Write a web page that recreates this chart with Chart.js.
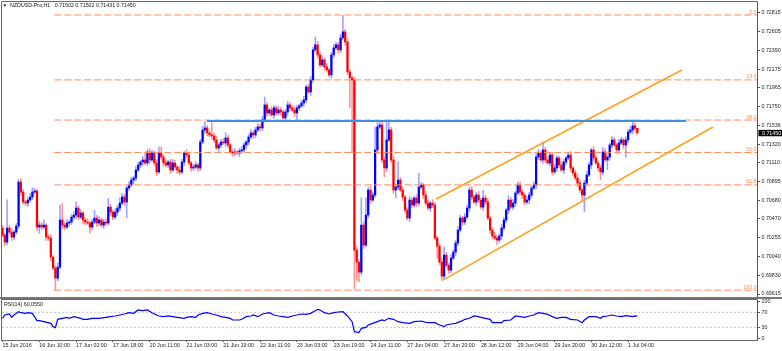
<!DOCTYPE html>
<html><head><meta charset="utf-8">
<script src="https://cdn.jsdelivr.net/npm/chart.js@4.4.1/dist/chart.umd.min.js"></script>
<style>
html,body{margin:0;padding:0;background:#fff;width:782px;height:351px;overflow:hidden}
#main{position:absolute;left:0;top:0}
#rsi{position:absolute;left:0;top:299px}
</style></head><body>
<canvas id="main" width="782" height="299"></canvas>
<canvas id="rsi" width="782" height="52"></canvas>
<script>
// ---------------- DATA ----------------
const symbolTitle = 'NZDUSD-Pro,H1';
const lastBarOHLC = ['0.71502', '0.71502', '0.71431', '0.71450'];
const firstOpen = 0.70366;
// H1 closes, bar 0 = 15 Jun 18:00 ... bar 276 = 1 Jul 08:00
const closes = [
0.70286,0.70206,0.70366,0.70320,0.70263,0.70320,0.70389,0.70890,0.70776,0.70662,
0.70651,0.70685,0.70719,0.70776,0.70788,0.70377,0.70400,0.70377,0.70400,0.70263,
0.70252,0.70035,0.69910,0.69796,0.69921,0.70457,0.70400,0.70377,0.70423,0.70434,
0.70491,0.70514,0.70594,0.70491,0.70537,0.70457,0.70434,0.70423,0.70377,0.70434,
0.70480,0.70423,0.70457,0.70400,0.70434,0.70423,0.70605,0.70548,0.70491,0.70548,
0.70594,0.70651,0.70719,0.70662,0.70822,0.70856,0.70913,0.70936,0.71027,0.71084,
0.71118,0.71141,0.71107,0.71232,0.71141,0.71221,0.71107,0.71004,0.71221,0.71175,
0.71107,0.71084,0.71118,0.71027,0.71107,0.71061,0.71027,0.71004,0.71118,0.71221,
0.71198,0.71107,0.71050,0.71061,0.71084,0.71050,0.71346,0.71483,0.71506,0.71449,
0.71426,0.71415,0.71369,0.71278,0.71312,0.71346,0.71335,0.71392,0.71312,0.71232,
0.71221,0.71232,0.71221,0.71244,0.71255,0.71312,0.71346,0.71403,0.71449,0.71426,
0.71483,0.71517,0.71506,0.71597,0.71768,0.71677,0.71711,0.71654,0.71734,0.71677,
0.71711,0.71688,0.71620,0.71688,0.71768,0.71734,0.71711,0.71677,0.71734,0.71757,
0.71791,0.71825,0.71973,0.71916,0.72053,0.72395,0.72452,0.72338,0.72224,0.72281,
0.72201,0.72167,0.72110,0.72338,0.72418,0.72452,0.72395,0.72532,0.72600,0.72486,
0.72144,0.72076,0.72053,0.70115,0.69978,0.69864,0.70400,0.70172,0.70514,0.70799,
0.70685,0.70742,0.71255,0.71517,0.71540,0.71141,0.71050,0.71369,0.71483,0.71141,
0.70799,0.70833,0.70913,0.70799,0.70719,0.70571,0.70480,0.70685,0.70628,0.70708,
0.70651,0.70833,0.70856,0.70742,0.70651,0.70594,0.70651,0.70628,0.70252,0.70161,
0.69978,0.69819,0.70058,0.69944,0.69887,0.70024,0.70092,0.70195,0.70343,0.70480,
0.70434,0.70491,0.70594,0.70799,0.70719,0.70662,0.70742,0.70685,0.70605,0.70708,
0.70662,0.70480,0.70343,0.70275,0.70252,0.70229,0.70275,0.70366,0.70457,0.70571,
0.70685,0.70605,0.70651,0.70765,0.70856,0.70776,0.70742,0.70662,0.70685,0.70742,
0.70822,0.70856,0.71175,0.71221,0.71141,0.71255,0.71141,0.71107,0.71198,0.71004,
0.71050,0.71164,0.71084,0.71027,0.71118,0.71164,0.71198,0.71050,0.70993,0.70936,
0.70879,0.70799,0.70742,0.70879,0.70970,0.71084,0.71255,0.71164,0.71107,0.71050,
0.71004,0.71232,0.71141,0.71175,0.71312,0.71369,0.71312,0.71255,0.71335,0.71369,
0.71312,0.71369,0.71460,0.71483,0.71530,0.71502,0.71450
];
// upper shadow length above the body, in pips
const wickHigh = [
3,2,32,3,4,2,3,3,4,3, 2,3,4,5,3,2,4,3,6,2, 3,4,2,3,5,17,19,3,4,2, 3,4,7,3,4,2,3,4,2,3,
9,3,4,2,3,4,10,3,2,4, 3,6,4,3,2,4,3,2,4,3, 2,4,9,3,4,3,2,4,7,7, 3,4,2,3,4,3,2,4,3,2,
4,3,2,3,4,2,3,4,7,3, 2,17,3,4,2,3,4,6,3,2, 3,4,2,3,4,3,2,3,4,2, 3,4,3,4,9,3,2,4,3,2,
4,3,2,3,4,3,2,4,3,2, 3,4,2,3,4,3,9,4,3,5, 3,4,2,3,4,3,3,4,19,3, 4,3,2,3,4,3,31,4,20,3,
4,3,26,5,5,3,4,22,11,3, 4,3,21,3,4,2,3,4,3,2, 4,16,3,2,4,3,2,4,3,2, 3,4,9,3,2,4,3,3,4,3,
2,4,3,3,4,2,3,4,2,9, 3,4,2,3,4,3,2,4,3,2, 5,3,4,2,3,4,3,2,4,3, 2,4,3,4,2,9,3,4,2,3,
4,3,2,4,3,2,3,4,2,3, 4,3,2,3,4,3,2,4,3,2, 3,5,4,3,2,4,3,2,4,3, 2,4,3,4,7,3,0
];
// lower shadow length below the body, in pips
const wickLow = [
2,4,3,2,4,3,2,3,4,2, 3,4,2,3,2,4,7,3,2,4, 3,4,2,14,3,2,4,3,2,4, 3,2,4,3,2,4,3,2,7,3,
2,4,3,2,4,3,2,4,3,2, 4,3,2,4,18,3,2,4,3,2, 3,4,2,3,4,2,3,4,2,3, 4,2,3,4,2,3,4,3,2,4,
3,2,4,3,2,4,3,2,4,3, 2,4,3,2,4,3,2,4,3,2, 4,3,2,4,3,2,4,3,2,4, 3,2,4,3,2,4,3,2,4,3,
2,4,3,2,4,3,2,4,8,3, 2,4,3,2,4,3,2,4,3,2, 4,3,2,4,3,2,4,3,2,4, 3,34,83,44,21,11,3,4,2,3,
4,2,3,4,2,3,10,4,2,3, 4,9,3,2,4,3,2,4,3,2, 4,3,2,4,3,2,4,3,2,14, 3,5,3,2,4,3,2,4,3,2,
4,3,2,4,3,2,4,3,2,4, 3,2,4,3,2,5,3,4,2,3, 4,2,3,4,2,3,4,3,2,4, 3,2,4,3,2,4,3,2,4,3,
2,4,3,2,4,3,2,4,3,2, 4,3,6,19,3,2,4,3,2,4, 9,3,2,11,4,3,2,4,3,2, 4,14,3,2,4,3,2
];
const priceTicks = [0.72815,0.72605,0.72390,0.72175,0.71965,0.71750,0.71536,0.71320,0.71110,0.70895,0.70680,0.70470,0.70255,0.70040,0.69830,0.69615];
const timeLabelBars = [0,16,32,48,64,80,96,112,128,144,160,176,192,208,224,240,256,272];
const timeLabels = ['15 Jun 2016','16 Jun 10:00','17 Jun 02:00','17 Jun 18:00','20 Jun 11:00','21 Jun 03:00','21 Jun 19:00','22 Jun 11:00','23 Jun 03:00','23 Jun 19:00','24 Jun 11:00','27 Jun 04:00','27 Jun 20:00','28 Jun 12:00','29 Jun 04:00','29 Jun 20:00','30 Jun 12:00','1 Jul 04:00'];
const fibLevels = ['0.0','23.6','38.2','50.0','61.8','100.0'];
const fibPrices = [0.72792,0.72053,0.71596,0.71227,0.70857,0.69659];
const fibStartBar = 22.5;
const resistanceBars = [88.9, 297.2];
const resistancePrices = [0.71585, 0.71585];
const channelUpperBars = [188.5, 295.4];
const channelUpperPrices = [0.70697, 0.72166];
const channelLowerBars = [191.5, 308.9];
const channelLowerPrices = [0.69774, 0.71517];
const rsiTitle = 'RSI(14) 60.0550';
const rsiBars = [
0,1,3,4,5,7,8,10,11,13, 15,16,18,21,22,23,24,26,28,29, 31,34,35,37,39,42,45,47,49,51,
53,55,57,59,61,63,65,67,68,70, 72,74,76,79,80,82,84,85,87,89, 91,93,95,97,99,100,103,104,106,108,
109,111,113,116,118,120,122,124,126,128, 130,132,134,137,138,140,142,144,146,148,
150,152,153,155,156,158,159,161,163,165, 166,168,170,172,174,177,179,182,184,186,
188,190,192,193,195,197,200,201,203,205, 207,208,210,212,213,215,217,218,221,223,
225,227,229,231,233,235,237,239,241,243, 245,247,250,252,253,255,258,260,261,263,
265,267,269,271,274,275,276
];
const rsiValues = [
54,62.8,65.5,56.6,62.8,71.7,69,67.3,69,67.3, 47.7,47.7,45,40.6,31.7,29,51.3,54,56.6,54,
58.4,54,51.3,51.3,54,54,56.6,58.4,60.2,62.8, 65.5,69,67.3,76.2,74.4,76.2,69,62.8,60.2,58.4,
60.2,58.4,56.6,54,56.6,58.4,56.6,62.8,67.3,69, 65.5,62.8,58.4,56.6,54,49.5,49.5,51.3,58.4,60.2,
62.8,58.4,65.5,69,62.8,60.2,58.4,56.6,60.2,62.8, 65.5,64.6,67.3,78,76.2,69,65.5,69,70.8,71.7,
60.2,45,18.4,15.7,27.3,29.9,36.2,40.6,45,49.5, 47.7,54,51.3,45,42.4,40.6,45,46.8,43.3,42.4,
42.4,36.2,31.7,36.2,38.8,40.6,47.7,51.3,54,60.2, 58.4,56.6,54,51.3,42.4,42.4,42.4,47.7,49.5,60.2,
58.4,56.6,60.2,62.8,69,67.3,64.6,58.4,54,56.6, 56.6,51.3,49.5,42.4,49.5,58.4,58.4,54,58.4,60.2,
62.8,60.2,58.4,61,58.4,60.2,60.06
];
const rsiLevels = [70, 30];
const rsiTicks = [100, 70, 30, 0];

// ---------------- LAYOUT / STYLE ----------------
const FONT_FAMILY = '"Liberation Sans", Arial, sans-serif';
const FONT_SIZE = 5.3;
const FONT = FONT_SIZE + 'px ' + FONT_FAMILY;
const X_MIN = -0.217, X_MAX = 328.04;
const PRICE_MIN = 0.69581, PRICE_MAX = 0.72940;
const RSI_MIN = -3.87, RSI_MAX = 102.8;
const FIB_COLOR = '#ff8a5c';
const AXIS_COLOR = '#555';
const TEXT_COLOR = '#222';

const opens = closes.map((c, i) => i === 0 ? firstOpen : closes[i - 1]);
const highs = closes.map((c, i) => Math.max(opens[i], c) + wickHigh[i] / 10000);
const lows = closes.map((c, i) => Math.min(opens[i], c) - wickLow[i] / 10000);
const bull = closes.map((c, i) => c >= opens[i]);
const bars = closes.map((c, i) => i);

Chart.defaults.font.family = FONT_FAMILY;
Chart.defaults.font.size = FONT_SIZE;

const framePlugin = {
  id: 'frame',
  afterDraw(chart, args, opts) {
    const {ctx, chartArea: a} = chart;
    ctx.save();
    ctx.strokeStyle = '#666';
    ctx.lineWidth = 1;
    ctx.beginPath();
    ctx.moveTo(a.left - 0.5, a.bottom + 0.5);
    ctx.lineTo(a.left - 0.5, a.top - 0.5);
    ctx.lineTo(a.right + 0.5, a.top - 0.5);
    if (!opts.thickBottom) { ctx.moveTo(a.left - 0.5, a.bottom + 0.5); ctx.lineTo(a.right + 0.5, a.bottom + 0.5); }
    ctx.stroke();
    if (opts.thickBottom) { ctx.fillStyle = '#777'; ctx.fillRect(0, a.bottom, chart.width, 2.5); }
    ctx.restore();
  }
};

const mainTextPlugin = {
  id: 'mainText',
  afterDatasetsDraw(chart) {
    const {ctx, chartArea: a} = chart;
    const y = chart.scales.y;
    ctx.save();
    ctx.font = FONT;
    // header
    ctx.fillStyle = '#111';
    ctx.beginPath(); ctx.moveTo(3.2, 4.6); ctx.lineTo(6.6, 4.6); ctx.lineTo(4.9, 6.8); ctx.closePath(); ctx.fill();
    ctx.textBaseline = 'middle'; ctx.textAlign = 'left';
    ctx.fillText(symbolTitle + '   ' + lastBarOHLC.join(' '), 10, 5.9);
    // fibonacci level labels
    ctx.fillStyle = FIB_COLOR; ctx.textAlign = 'right'; ctx.textBaseline = 'bottom';
    fibPrices.forEach((p, k) => ctx.fillText(fibLevels[k], a.right - 0.5, y.getPixelForValue(p) - 0.3));
    // current price box
    const last = closes[closes.length - 1];
    const yp = y.getPixelForValue(last);
    ctx.fillStyle = '#000';
    ctx.fillRect(a.right + 1.5, yp - 3, chart.width - a.right - 1.5, 6.4);
    ctx.fillStyle = '#fff'; ctx.textAlign = 'left'; ctx.textBaseline = 'middle';
    ctx.fillText(last.toFixed(5), a.right + 5, yp + 0.3);
    ctx.restore();
  }
};

const rsiTextPlugin = {
  id: 'rsiText',
  afterDatasetsDraw(chart) {
    const {ctx} = chart;
    ctx.save();
    ctx.font = FONT; ctx.fillStyle = '#111';
    ctx.textBaseline = 'middle'; ctx.textAlign = 'left';
    ctx.fillText(rsiTitle, 4, 5.6);
    ctx.restore();
  }
};

const hLine = (x0, x1, v, color, width, dash, order) => ({
  type: 'line', data: [{x: x0, y: v}, {x: x1, y: v}], borderColor: color, borderWidth: width,
  borderDash: dash, pointRadius: 0, fill: false, order: order
});
const segLine = (xs, ys, color, width, order) => ({
  type: 'line', data: xs.map((x, k) => ({x: x, y: ys[k]})), borderColor: color, borderWidth: width,
  pointRadius: 0, fill: false, order: order
});

new Chart(document.getElementById('main'), {
  type: 'bar',
  data: {
    datasets: [
      ...fibPrices.map(p => hLine(fibStartBar, X_MAX, p, FIB_COLOR, 1, [7, 3], 2)),
      segLine(resistanceBars, resistancePrices, '#3f8fe6', 2, 0),
      segLine(channelUpperBars, channelUpperPrices, '#ffa018', 1.5, 1),
      segLine(channelLowerBars, channelLowerPrices, '#ffa018', 1.5, 1),
      {
        type: 'bar', label: 'shadows', order: 6, grouped: false, barThickness: 0.9, borderWidth: 0,
        data: bars.map(i => ({x: i, y: [lows[i], highs[i]]})),
        backgroundColor: bars.map(i => bull[i] ? 'rgba(40,40,255,0.45)' : 'rgba(255,40,40,0.5)')
      },
      {
        type: 'bar', label: 'bodies', order: 5, grouped: false, barThickness: 1.6, borderWidth: 0, minBarLength: 1,
        data: bars.map(i => ({x: i, y: [opens[i], closes[i]]})),
        backgroundColor: bars.map(i => bull[i] ? '#0000ff' : '#ff0000')
      }
    ]
  },
  options: {
    responsive: false, animation: false, devicePixelRatio: 1, events: [],
    layout: {padding: {left: 2, top: 2, right: 0, bottom: 2}},
    plugins: {legend: {display: false}, tooltip: {enabled: false}, frame: {thickBottom: true}},
    scales: {
      x: {type: 'linear', min: X_MIN, max: X_MAX, offset: false, display: false},
      y: {
        type: 'linear', position: 'right', min: PRICE_MIN, max: PRICE_MAX, beginAtZero: false,
        afterBuildTicks: s => { s.ticks = priceTicks.map(v => ({value: v})); },
        afterFit: s => { s.width = 25; s.paddingTop = 0; s.paddingBottom = 0; },
        grid: {drawOnChartArea: false, drawTicks: true, tickLength: 3, color: AXIS_COLOR},
        border: {display: true, color: AXIS_COLOR, width: 1},
        ticks: {autoSkip: false, padding: 1.5, color: TEXT_COLOR, font: {size: FONT_SIZE}, callback: v => Number(v).toFixed(5)}
      }
    }
  },
  plugins: [framePlugin, mainTextPlugin]
});

new Chart(document.getElementById('rsi'), {
  type: 'line',
  data: {
    datasets: [
      ...rsiLevels.map(v => hLine(X_MIN, X_MAX, v, '#c4c4c4', 1, [2, 2], 2)),
      {
        label: 'RSI(14)', data: rsiBars.map((b, k) => ({x: b, y: rsiValues[k]})),
        borderColor: '#0000ff', borderWidth: 1.2, pointRadius: 0, fill: false, tension: 0, order: 0
      }
    ]
  },
  options: {
    responsive: false, animation: false, devicePixelRatio: 1, events: [],
    layout: {padding: {left: 2, top: 1, right: 0, bottom: 0}},
    plugins: {legend: {display: false}, tooltip: {enabled: false}, frame: {thickBottom: false}},
    scales: {
      x: {
        type: 'linear', position: 'bottom', min: X_MIN, max: X_MAX, offset: false,
        afterBuildTicks: s => { s.ticks = timeLabelBars.map(v => ({value: v})); },
        afterFit: s => { s.height = 11; s.paddingLeft = 0; s.paddingRight = 0; },
        grid: {drawOnChartArea: false, drawTicks: true, tickLength: 2, color: AXIS_COLOR},
        border: {display: false},
        ticks: {autoSkip: false, maxRotation: 0, align: 'start', padding: 0.5, color: TEXT_COLOR,
          font: {size: FONT_SIZE}, callback: (v, idx) => timeLabels[idx]}
      },
      y: {
        type: 'linear', position: 'right', min: RSI_MIN, max: RSI_MAX,
        afterBuildTicks: s => { s.ticks = rsiTicks.map(v => ({value: v})); },
        afterFit: s => { s.width = 25; s.paddingTop = 0; s.paddingBottom = 0; },
        grid: {drawOnChartArea: false, drawTicks: true, tickLength: 3, color: AXIS_COLOR},
        border: {display: true, color: AXIS_COLOR, width: 1},
        ticks: {autoSkip: false, padding: 1.5, color: TEXT_COLOR, font: {size: FONT_SIZE}, callback: v => String(v)}
      }
    }
  },
  plugins: [framePlugin, rsiTextPlugin]
});
</script>
</body></html>
